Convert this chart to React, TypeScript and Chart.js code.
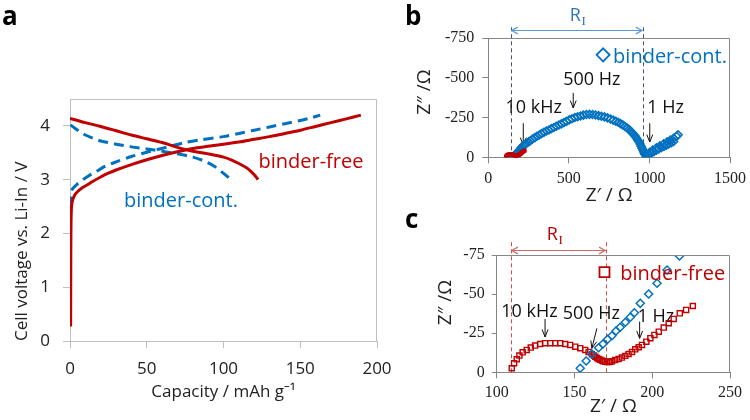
import React, { useEffect, useRef } from 'react';
import { Chart, registerables } from 'chart.js';
Chart.register(...registerables);

// ---------- Panel a: charge / discharge curves ----------
const redChargeCap = [0.4, 0.5, 0.6, 0.9, 1.5, 3, 5, 8, 11, 15, 20, 25, 30, 40, 50, 60, 70, 80, 90, 100, 110, 120, 130, 140, 150, 160, 170, 180, 189.5];
const redChargeV = [0.27, 1.2, 2.0, 2.45, 2.6, 2.71, 2.78, 2.85, 2.9, 2.97, 3.05, 3.12, 3.18, 3.28, 3.37, 3.45, 3.52, 3.58, 3.62, 3.66, 3.7, 3.75, 3.8, 3.86, 3.92, 3.99, 4.06, 4.13, 4.2];
const redDischargeCap = [0, 5, 10, 20, 30, 40, 50, 60, 70, 75, 80, 90, 100, 105, 110, 115, 118, 121, 122.5];
const redDischargeV = [4.14, 4.1, 4.06, 3.99, 3.91, 3.83, 3.76, 3.69, 3.6, 3.56, 3.53, 3.48, 3.42, 3.37, 3.3, 3.22, 3.15, 3.06, 3.0];
const blueChargeCap = [0.3, 0.5, 1.5, 4, 8, 12, 17, 23, 30, 40, 50, 57, 65, 75, 85, 100, 110, 120, 130, 140, 150, 157, 163];
const blueChargeV = [2.5, 2.72, 2.82, 2.9, 2.99, 3.07, 3.15, 3.25, 3.33, 3.43, 3.51, 3.56, 3.62, 3.69, 3.74, 3.8, 3.86, 3.92, 3.98, 4.04, 4.1, 4.15, 4.2];
const blueDischargeCap = [0.3, 3, 6, 10, 15, 20, 30, 40, 50, 60, 70, 80, 88, 94, 99, 102, 105];
const blueDischargeV = [4.02, 3.96, 3.9, 3.83, 3.77, 3.72, 3.66, 3.61, 3.57, 3.53, 3.48, 3.42, 3.34, 3.25, 3.14, 3.07, 3.0];
const capTicks = [0, 50, 100, 150, 200];
const voltTicks = [0, 1, 2, 3, 4];

// ---------- Panels b, c: impedance (Z', Z'') ----------
const contRe = [153.7, 157.5, 161.2, 165.5, 168.3, 171.3, 174.1, 176.7, 179.4, 182.7, 185.9, 188.5, 192.3, 197.7, 203.1, 209.5, 217.5,
  228, 238, 250, 262, 275, 289, 302, 316, 330, 345, 360, 376, 391, 407, 422, 438, 453, 469, 485, 502, 519, 537, 554, 572, 590, 609, 628, 647,
  665, 684, 702, 721, 740, 758, 775, 791, 806, 820, 834, 847, 860, 872, 882, 892, 902, 911, 919, 927, 935, 942, 948, 954, 960, 965, 969, 973, 977, 981, 986,
  995, 1012, 1028, 1043, 1058, 1074, 1090, 1105, 1120, 1136, 1150,
  1000, 1020, 1043, 1065, 1088, 1110, 1130, 1150, 1168, 1178];
const contIm = [-2.6, -7.2, -11.7, -15.7, -18.1, -21.1, -23.4, -26.4, -28.8, -32, -35.2, -38.1, -44.1, -50.1, -56.9, -65.4, -74.4,
  -81, -88, -97, -105, -115, -124, -132, -140, -149, -157, -165, -172, -180, -187, -195, -203, -210, -218, -226, -235, -242, -250, -255, -260, -265, -269, -270, -269,
  -266, -262, -258, -254, -248, -241, -234, -227, -220, -212, -204, -195, -186, -176, -166, -155, -145, -134, -122, -109, -97, -84, -70, -57, -45, -33, -24, -17, -11, -8, -9,
  -15, -27, -36, -45, -53, -61, -68, -76, -84, -92, -100,
  -30, -45, -60, -72, -85, -97, -108, -120, -132, -141];
const freeRe = [109.7, 111.2, 112.9, 114.6, 116.7, 119.3, 121.9, 124.7, 127.9, 131.1, 134.4, 137.6, 140.8, 144.0, 147.2, 150.5, 153.7, 156.9, 159.1, 161.2, 162.5, 163.4, 164.5,
  165.5, 166.5, 167.7, 168.5, 169.8, 171.0, 172.0, 173.0, 174.1, 176.2, 178.4, 180.5, 182.7, 184.8, 187.0, 189.1, 191.3, 193.4, 196.2, 198.8, 201.4, 204.2, 207.4, 210.6, 213.8, 217.7, 221.8, 226.1];
const freeIm = [-2.6, -5.8, -8.3, -10.7, -12.8, -14.3, -15.8, -17.1, -18.1, -18.6, -18.6, -18.6, -18.6, -18.1, -17.5, -16.4, -15.4, -14.3, -13.0, -11.5, -10.8, -10.0, -9.2,
  -8.5, -8.0, -7.5, -7.1, -6.8, -6.6, -6.6, -6.7, -7.0, -7.9, -8.5, -9.4, -10.5, -11.7, -13.0, -14.7, -16.0, -17.5, -19.6, -21.8, -23.9, -26.0, -28.6, -31.4, -34.1, -37.7, -39.9, -42.4];
const bTicksX = [0, 500, 1000, 1500];
const bTicksY = [0, -250, -500, -750];
const cTicksX = [100, 150, 200, 250];
const cTicksY = [0, -25, -50, -75];

const RED = '#C00000';
const BLUE = '#0070C0';
const SANS = "'Open Sans', 'Noto Sans', 'DejaVu Sans', sans-serif";
const SERIF = "'Liberation Serif', 'DejaVu Serif', serif";

const pts = (xs: number[], ys: number[]) => xs.map((x, i) => ({ x, y: ys[i] }));

function arrowHead(ctx: CanvasRenderingContext2D, x1: number, y1: number, x2: number, y2: number, len: number, spread: number) {
  const a = Math.atan2(y2 - y1, x2 - x1);
  ctx.beginPath();
  ctx.moveTo(x2 - len * Math.cos(a - spread), y2 - len * Math.sin(a - spread));
  ctx.lineTo(x2, y2);
  ctx.lineTo(x2 - len * Math.cos(a + spread), y2 - len * Math.sin(a + spread));
  ctx.stroke();
}

function drawItems(chart: any, items: any[]) {
  const ctx: CanvasRenderingContext2D = chart.ctx;
  const xs = chart.scales.x, ys = chart.scales.y;
  const px = (v: number) => xs.getPixelForValue(v);
  const py = (v: number) => ys.getPixelForValue(v);
  for (const it of items) {
    ctx.save();
    if (it.kind === 'text') {
      ctx.font = it.font; ctx.fillStyle = it.color; ctx.textAlign = it.align || 'left'; ctx.textBaseline = 'alphabetic';
      ctx.fillText(it.text, px(it.x), py(it.y));
    } else if (it.kind === 'label') {
      ctx.font = it.font; ctx.fillStyle = '#000'; ctx.textAlign = 'left'; ctx.textBaseline = 'alphabetic';
      ctx.fillText(it.text, it.px, it.py);
    } else if (it.kind === 'vtitle') {
      ctx.font = it.font; ctx.fillStyle = '#222'; ctx.textAlign = 'center'; ctx.textBaseline = 'middle';
      ctx.translate(it.px, it.py); ctx.rotate(-Math.PI / 2);
      ctx.fillText(it.text, 0, 0);
    } else if (it.kind === 'sub') {
      ctx.font = it.font; ctx.fillStyle = it.color; ctx.textAlign = 'left'; ctx.textBaseline = 'alphabetic';
      const X = px(it.x), Y = py(it.y);
      ctx.fillText(it.main, X, Y);
      const w = ctx.measureText(it.main).width;
      ctx.font = it.subFont;
      ctx.fillText(it.sub, X + w + 0.5, Y + it.drop);
    } else if (it.kind === 'arrow') {
      const x1 = px(it.x1), y1 = py(it.y1), x2 = px(it.x2), y2 = py(it.y2);
      ctx.strokeStyle = it.color; ctx.lineWidth = 1;
      ctx.beginPath(); ctx.moveTo(x1, y1); ctx.lineTo(x2, y2); ctx.stroke();
      arrowHead(ctx, x1, y1, x2, y2, 8, 0.38);
    } else if (it.kind === 'vdash') {
      const x = Math.round(px(it.x)) + 0.5;
      ctx.strokeStyle = it.color; ctx.lineWidth = 1; ctx.setLineDash([4, 3]);
      ctx.beginPath(); ctx.moveTo(x, py(it.y1)); ctx.lineTo(x, py(it.y2)); ctx.stroke();
    } else if (it.kind === 'darrow') {
      const x1 = px(it.x1) + 1, x2 = px(it.x2) - 1, y = Math.round(py(it.y)) + 0.5;
      ctx.strokeStyle = it.color; ctx.lineWidth = 1.2;
      ctx.beginPath(); ctx.moveTo(x1, y); ctx.lineTo(x2, y); ctx.stroke();
      arrowHead(ctx, x2, y, x1, y, 7, 0.5);
      arrowHead(ctx, x1, y, x2, y, 7, 0.5);
    } else if (it.kind === 'marker') {
      const x = px(it.x), y = py(it.y), r = it.r;
      ctx.strokeStyle = it.color; ctx.lineWidth = 1.8; ctx.fillStyle = '#fff';
      ctx.beginPath();
      if (it.shape === 'diamond') {
        ctx.moveTo(x, y - r); ctx.lineTo(x + r, y); ctx.lineTo(x, y + r); ctx.lineTo(x - r, y); ctx.closePath();
      } else {
        ctx.rect(x - r, y - r, 2 * r, 2 * r);
      }
      ctx.fill(); ctx.stroke();
    }
    ctx.restore();
  }
}

const overlay = {
  id: 'overlay',
  beforeDatasetsDraw(chart: any, _a: any, o: any) {
    drawItems(chart, o.under || []);
  },
  afterDatasetsDraw(chart: any, _a: any, o: any) {
    const { ctx, chartArea } = chart;
    ctx.save();
    ctx.strokeStyle = o.frame; ctx.lineWidth = 1;
    const t = Math.round(chartArea.top) + 0.5, r = Math.round(chartArea.right) - 0.5;
    ctx.beginPath();
    ctx.moveTo(chartArea.left, t); ctx.lineTo(r, t); ctx.lineTo(r, chartArea.bottom);
    ctx.stroke();
    ctx.restore();
    drawItems(chart, o.over || []);
  },
};

function axis(o: any) {
  return {
    type: 'linear',
    min: o.min, max: o.max, reverse: !!o.reverse,
    afterBuildTicks: (s: any) => { s.ticks = o.ticks.map((v: number) => ({ value: v })); },
    afterFit: (s: any) => {
      if (o.width !== undefined) s.width = o.width;
      if (o.height !== undefined) s.height = o.height;
      s.paddingLeft = 0; s.paddingRight = 0; s.paddingTop = 0; s.paddingBottom = 0;
    },
    grid: { drawOnChartArea: false, drawTicks: true, tickLength: o.tl, color: o.lineColor },
    border: { display: true, color: o.lineColor, width: 1 },
    ticks: { font: o.tickFont, color: '#222', padding: o.pad, maxRotation: 0, autoSkip: false, callback: (v: any) => String(v) },
    title: { display: o.title !== '', text: o.title, align: o.titleAlign || 'center', font: o.titleFont, color: '#222', padding: o.titlePad },
  };
}

function configA() {
  const line = (xs: number[], ys: number[], color: string, dash: number[]) => ({
    data: pts(xs, ys), showLine: true, borderColor: color, backgroundColor: color, borderWidth: 3,
    pointRadius: 0, tension: 0.3, borderDash: dash, fill: false,
  });
  return {
    type: 'scatter',
    data: {
      datasets: [
        line(redChargeCap, redChargeV, RED, []),
        line(redDischargeCap, redDischargeV, RED, []),
        line(blueChargeCap, blueChargeV, BLUE, [10, 6]),
        line(blueDischargeCap, blueDischargeV, BLUE, [10, 6]),
      ],
    },
    plugins: [overlay],
    options: {
      responsive: false, animation: false, events: [],
      layout: { padding: { left: 0, top: 99, right: 18, bottom: 0 } },
      plugins: {
        legend: { display: false }, tooltip: { enabled: false },
        overlay: {
          frame: '#BFBFBF',
          over: [
            { kind: 'text', x: 122.8, y: 3.21, text: 'binder-free', color: RED, font: `20px ${SANS}` },
            { kind: 'text', x: 35.2, y: 2.485, text: 'binder-cont.', color: BLUE, font: `20px ${SANS}` },
            { kind: 'label', px: 2, py: 25, text: 'a', font: `bold 26px ${SANS}` },
          ],
        },
      },
      scales: {
        x: axis({ min: 0, max: 200, ticks: capTicks, height: 79, tl: 7, pad: 11, lineColor: '#BFBFBF',
          tickFont: { family: SANS, size: 17 }, title: 'Capacity / mAh g\u207B\u00B9', titleFont: { family: SANS, size: 17 },
          titlePad: { top: 0, bottom: 18 } }),
        y: axis({ min: 0, max: 4.5, ticks: voltTicks, width: 70, tl: 7, pad: 13, lineColor: '#BFBFBF',
          tickFont: { family: SANS, size: 17 }, title: 'Cell voltage vs. Li-In / V', titleAlign: 'start',
          titleFont: { family: SANS, size: 17 }, titlePad: { top: 12, bottom: 0 } }),
      },
    },
  };
}

function configB() {
  return {
    type: 'scatter',
    data: {
      datasets: [
        { data: pts(freeRe, freeIm), pointStyle: 'rect', pointRadius: 1.6, borderWidth: 1.6, borderColor: RED, backgroundColor: 'rgba(255,255,255,0)' },
        { data: pts(contRe, contIm), pointStyle: 'rectRot', pointRadius: 4, borderWidth: 1.5, borderColor: BLUE, backgroundColor: 'rgba(255,255,255,0)' },
      ],
    },
    plugins: [overlay],
    options: {
      responsive: false, animation: false, events: [],
      layout: { padding: { left: 0, top: 38, right: 20, bottom: 0 } },
      plugins: {
        legend: { display: false }, tooltip: { enabled: false },
        overlay: {
          frame: '#868686',
          under: [
            { kind: 'vdash', x: 138.8, y1: 0, y2: -833, color: '#44546A' },
            { kind: 'vdash', x: 960, y1: 0, y2: -833, color: '#44546A' },
            { kind: 'darrow', x1: 138.8, x2: 960, y: -801.6, color: '#5B9BD5' },
            { kind: 'sub', x: 506, y: -854, main: 'R', sub: 'I', color: '#2E75B6', font: `18px ${SANS}`, subFont: `13px ${SERIF}`, drop: 4 },
            { kind: 'text', x: 282, y: -277, text: '10 kHz', align: 'center', color: '#111', font: `18px ${SANS}` },
            { kind: 'text', x: 642.5, y: -455, text: '500 Hz', align: 'center', color: '#111', font: `18px ${SANS}` },
            { kind: 'text', x: 1101, y: -277, text: '1 Hz', align: 'center', color: '#111', font: `18px ${SANS}` },
            { kind: 'arrow', x1: 217, y1: -214, x2: 217, y2: -77, color: '#111' },
            { kind: 'arrow', x1: 527, y1: -405, x2: 527, y2: -310, color: '#111' },
            { kind: 'arrow', x1: 1002, y1: -214, x2: 1002, y2: -96, color: '#111' },
          ],
          over: [
            { kind: 'marker', shape: 'diamond', x: 712.5, y: -644, r: 6.5, color: BLUE },
            { kind: 'text', x: 774.5, y: -592, text: 'binder-cont.', color: BLUE, font: `20px ${SANS}` },
            { kind: 'label', px: 5, py: 25, text: 'b', font: `bold 26px ${SANS}` },
          ],
        },
      },
      scales: {
        x: axis({ min: 0, max: 1500, ticks: bTicksX, height: 52.7, tl: 6, pad: 6, lineColor: '#868686',
          tickFont: { family: SERIF, size: 16 }, title: 'Z\u2032 / \u03A9', titleFont: { family: SANS, size: 19 },
          titlePad: { top: 0, bottom: 3 } }),
        y: axis({ min: -750, max: 0, reverse: true, ticks: bTicksY, width: 88.3, tl: 6, pad: 8, lineColor: '#868686',
          tickFont: { family: SERIF, size: 16 }, title: '', titleFont: { family: SANS, size: 19 },
          titlePad: { top: 0, bottom: 0 } }),
      },
    },
  };
}

function configC() {
  return {
    type: 'scatter',
    data: {
      datasets: [
        { data: pts(contRe, contIm), pointStyle: 'rectRot', pointRadius: 4, borderWidth: 1.5, borderColor: BLUE, backgroundColor: 'rgba(255,255,255,0)' },
        { data: pts(freeRe, freeIm), pointStyle: 'rect', pointRadius: 3.6, borderWidth: 1.4, borderColor: RED, backgroundColor: 'rgba(255,255,255,0)' },
      ],
    },
    plugins: [overlay],
    options: {
      responsive: false, animation: false, events: [],
      layout: { padding: { left: 0, top: 45, right: 20, bottom: 0 } },
      plugins: {
        legend: { display: false }, tooltip: { enabled: false },
        overlay: {
          frame: '#868686',
          under: [
            { kind: 'vdash', x: 109.0, y1: 0, y2: -84.6, color: '#E04848' },
            { kind: 'vdash', x: 170.4, y1: 0, y2: -84.6, color: '#E04848' },
            { kind: 'darrow', x1: 109.0, x2: 170.4, y: -78.2, color: '#D46A6A' },
            { kind: 'sub', x: 132.2, y: -84.6, main: 'R', sub: 'I', color: RED, font: `18px ${SANS}`, subFont: `13px ${SERIF}`, drop: 4 },
            { kind: 'text', x: 121.1, y: -35.6, text: '10 kHz', align: 'center', color: '#111', font: `18px ${SANS}` },
            { kind: 'text', x: 160.9, y: -33.9, text: '500 Hz', align: 'center', color: '#111', font: `18px ${SANS}` },
            { kind: 'text', x: 202.3, y: -32.4, text: '1 Hz', align: 'center', color: '#111', font: `18px ${SANS}` },
            { kind: 'arrow', x1: 131.1, y1: -34.1, x2: 131.1, y2: -22.6, color: '#111' },
            { kind: 'arrow', x1: 164.4, y1: -28.1, x2: 161.2, y2: -15.3, color: '#111' },
            { kind: 'arrow', x1: 191.9, y1: -32.4, x2: 191.9, y2: -21.7, color: '#111' },
          ],
          over: [
            { kind: 'marker', shape: 'square', x: 169.3, y: -64.1, r: 5, color: RED },
            { kind: 'text', x: 179.4, y: -59, text: 'binder-free', color: RED, font: `20px ${SANS}` },
            { kind: 'label', px: 5, py: 18, text: 'c', font: `bold 26px ${SANS}` },
          ],
        },
      },
      scales: {
        x: axis({ min: 100, max: 250, ticks: cTicksX, height: 47.7, tl: 6, pad: 5, lineColor: '#868686',
          tickFont: { family: SERIF, size: 16 }, title: 'Z\u2032 / \u03A9', titleFont: { family: SANS, size: 19 },
          titlePad: { top: 0, bottom: 2 } }),
        y: axis({ min: -75, max: 0, reverse: true, ticks: cTicksY, width: 96.7, tl: 5, pad: 7, lineColor: '#868686',
          tickFont: { family: SERIF, size: 16 }, title: '', titleFont: { family: SANS, size: 19 },
          titlePad: { top: 0, bottom: 0 } }),
      },
    },
  };
}

// y-axis titles of the impedance panels (placed beside their tick labels)
const bYTitle = { kind: 'vtitle', px: 24.7, py: 92, text: 'Z\u2033 /\u03A9', font: `19px ${SANS}` };
const cYTitle = { kind: 'vtitle', px: 46, py: 92.5, text: 'Z\u2033 /\u03A9', font: `19px ${SANS}` };

function withTitle(make: () => any, t: any) {
  return () => {
    const cfg = make();
    cfg.options.plugins.overlay.over.push(t);
    return cfg;
  };
}

function Panel({ make, left, top, width, height }: { make: () => any; left: number; top: number; width: number; height: number }) {
  const ref = useRef<HTMLCanvasElement | null>(null);
  useEffect(() => {
    const chart = new Chart(ref.current as HTMLCanvasElement, make());
    return () => chart.destroy();
  }, []);
  return <canvas ref={ref} width={width} height={height} style={{ position: 'absolute', left, top, width, height }} />;
}

export default function App() {
  return (
    <div style={{ position: 'fixed', left: 0, top: 0, width: 750, height: 420, background: '#fff', overflow: 'hidden' }}>
      <Panel make={configA} left={0} top={0} width={395} height={420} />
      <Panel make={withTitle(configB, bYTitle)} left={400} top={0} width={350} height={210} />
      <Panel make={withTitle(configC, cYTitle)} left={400} top={210} width={350} height={210} />
    </div>
  );
}
